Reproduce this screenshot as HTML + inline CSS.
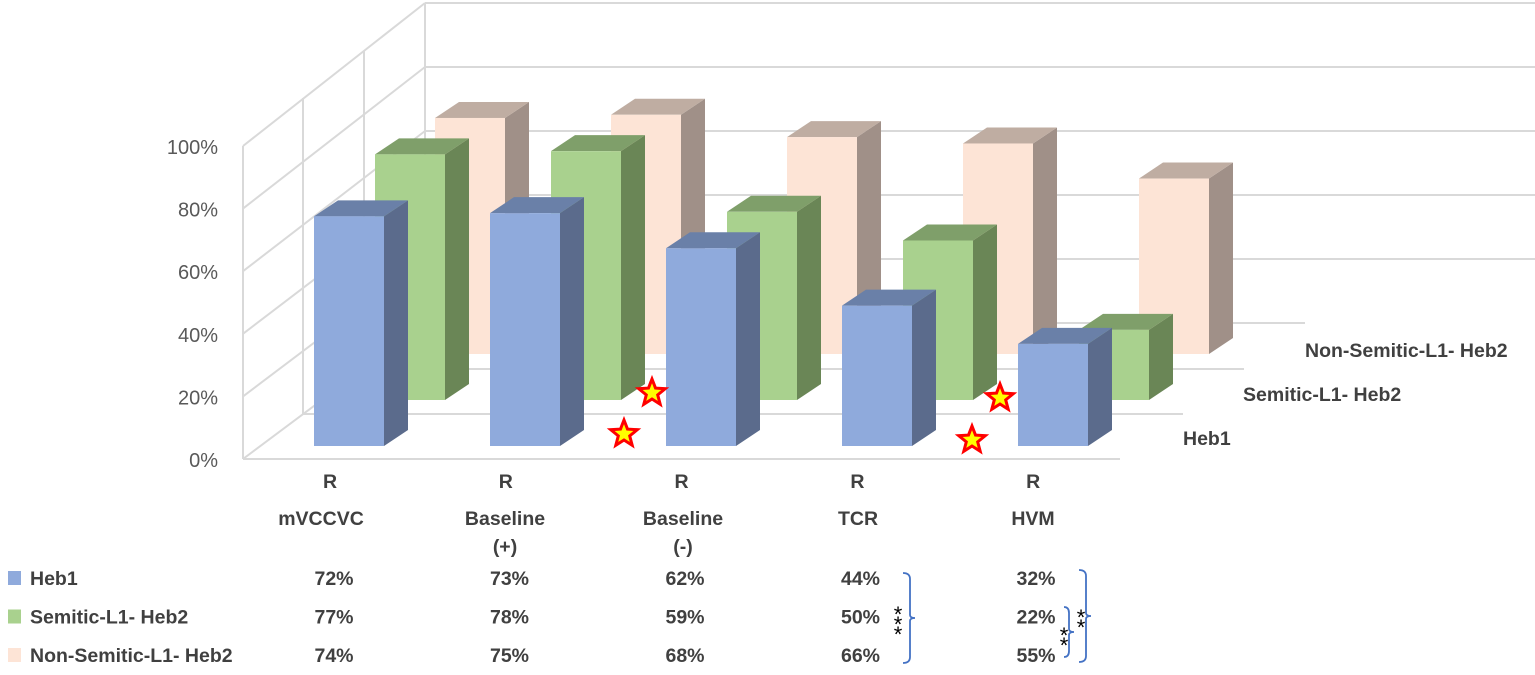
<!DOCTYPE html>
<html><head><meta charset="utf-8"><style>
html,body{margin:0;padding:0;background:#fff;}
svg{display:block;font-family:"Liberation Sans",sans-serif;}
.t{font-weight:bold;fill:#404040;font-size:19.5px;}
.ax{fill:#595959;font-size:20px;}
</style></head><body>
<svg id="c" width="1535" height="675" viewBox="0 0 1535 675"></svg>
<script>
const categories=["mVCCVC","Baseline (+)","Baseline (-)","TCR","HVM"];
const series=["Heb1","Semitic-L1- Heb2","Non-Semitic-L1- Heb2"];
const heb1=[72,73,62,44,32];
const semitic=[77,78,59,50,22];
const nonSemitic=[74,75,68,66,55];
const valueLabels=[["72%","73%","62%","44%","32%"],["77%","78%","59%","50%","22%"],["74%","75%","68%","66%","55%"]];
const yTicks=["0%","20%","40%","60%","80%","100%"];

const NS="http://www.w3.org/2000/svg";
const svg=document.getElementById('c');
function mk(tag,attrs,parent){const e=document.createElementNS(NS,tag);for(const k in attrs)e.setAttribute(k,attrs[k]);(parent||svg).appendChild(e);return e;}
const PX=3.19;
function xCat(i){return 314+i*176;}
function yVal(v,base){return base-v*PX;}
const grid="#d9d9d9";
const gw=mk('g',{});


for(let k=0;k<6;k++){
  const yf=459-62.6*k, yb=323-64*k;
  mk('line',{x1:243,y1:yf,x2:425,y2:yb,stroke:grid,'stroke-width':2},gw);
  if(k>0) mk('line',{x1:425,y1:yb,x2:1535,y2:yb,stroke:grid,'stroke-width':2},gw);
}
mk('line',{x1:425,y1:323,x2:1305,y2:323,stroke:grid,'stroke-width':2},gw);
[[243,459,146],[303,414,98],[364,369,51],[425,323,3]].forEach(a=>mk('line',{x1:a[0],y1:a[1],x2:a[0],y2:a[2],stroke:grid,'stroke-width':2},gw));
mk('line',{x1:243,y1:459,x2:1120,y2:459,stroke:grid,'stroke-width':2},gw);
mk('line',{x1:303,y1:414,x2:1183,y2:414,stroke:grid,'stroke-width':2},gw);
mk('line',{x1:364,y1:369,x2:1244,y2:369,stroke:grid,'stroke-width':2},gw);
yTicks.forEach((t,k)=>{const e=mk('text',{x:218,y:467-62.6*k,'text-anchor':'end',class:'ax'});e.textContent=t;

});
const rows=[
 {data:nonSemitic,dx:121,base:354,c:["#fde4d6","#a09088","#bfada2"],n:"non-semitic"},
 {data:semitic,dx:61,base:400,c:["#a9d18e","#6a8656","#7f9f6a"],n:"semitic"},
 {data:heb1,dx:0,base:446,c:["#8faadc","#5b6b8c","#6a80a8"],n:"heb1"}];
const W=70,DX=24,DY=16;
rows.forEach(r=>{
  r.data.forEach((v,i)=>{
    const x=xCat(i)+r.dx, y=yVal(v,r.base), b=r.base;
    const g=mk('g',{});
    
    
    mk('polygon',{points:`${x+W},${y} ${x+W+DX},${y-DY} ${x+W+DX},${b-DY} ${x+W},${b}`,fill:r.c[1]},g);
    mk('polygon',{points:`${x},${y} ${x+DX},${y-DY} ${x+W+DX},${y-DY} ${x+W},${y}`,fill:r.c[2]},g);
    mk('rect',{x:x,y:y,width:W,height:b-y,fill:r.c[0]},g);
  });
});
function star(cx,cy){const p=[];for(let i=0;i<10;i++){const a=-Math.PI/2+i*Math.PI/5,rr=i%2?6:14;p.push((cx+rr*Math.cos(a)).toFixed(1)+','+(cy+rr*Math.sin(a)).toFixed(1));}
const e=mk('polygon',{points:p.join(' '),fill:'#ffff00',stroke:'#ff0000','stroke-width':3});

}
star(624,434);star(652,393);star(972,440);star(1000,398);
[["Non-Semitic-L1- Heb2",1305,357],["Semitic-L1- Heb2",1243,401],["Heb1",1183,445]].forEach(a=>{const e=mk('text',{x:a[1],y:a[2],class:'t'});e.textContent=a[0];

});
const catCenters=[321,505,683,858,1033];
categories.forEach((c,i)=>{const cx=catCenters[i];
 const r=mk('text',{x:330+i*175.8,y:488,'text-anchor':'middle',class:'t'});r.textContent="R";
 
 
 const parts=c.split(' ');
 parts.forEach((p,j)=>{const e=mk('text',{x:cx,y:525+28*j,'text-anchor':'middle',class:'t'});e.textContent=p;
 
 });
});
const sw=["#8faadc","#a9d18e","#fde4d6"];
series.forEach((s,k)=>{const y=585+38.5*k;
 const r=mk('rect',{x:8,y:y-14,width:13,height:14,fill:sw[k]});
 
 
 const t=mk('text',{x:30,y:y,class:'t'});t.textContent=s;
 
 
 valueLabels[k].forEach((v,i)=>{const e=mk('text',{x:334+i*175.5,y:y,'text-anchor':'middle',class:'t'});e.textContent=v;
 
 });
});
function brace(x,y1,y2,w){const m=(y1+y2)/2;
const e=mk('path',{d:`M${x-w},${y1} Q${x},${y1} ${x},${y1+6} L${x},${m-3} Q${x},${m} ${x+5},${m} Q${x},${m} ${x},${m+3} L${x},${y2-6} Q${x},${y2} ${x-w},${y2}`,fill:'none',stroke:'#4472c4','stroke-width':1.8});

}
brace(910,573,663,7);brace(1086,570,662,7);brace(1069,607,657,5);
function ast(x,y,n){for(let i=0;i<n;i++){const e=mk('text',{x:x,y:y+i*10,'text-anchor':'middle','font-size':22,fill:'#000'});e.textContent="*";

}}
ast(898,622,3);ast(1081,625,2);ast(1064,643,2);
</script>
</body></html>
